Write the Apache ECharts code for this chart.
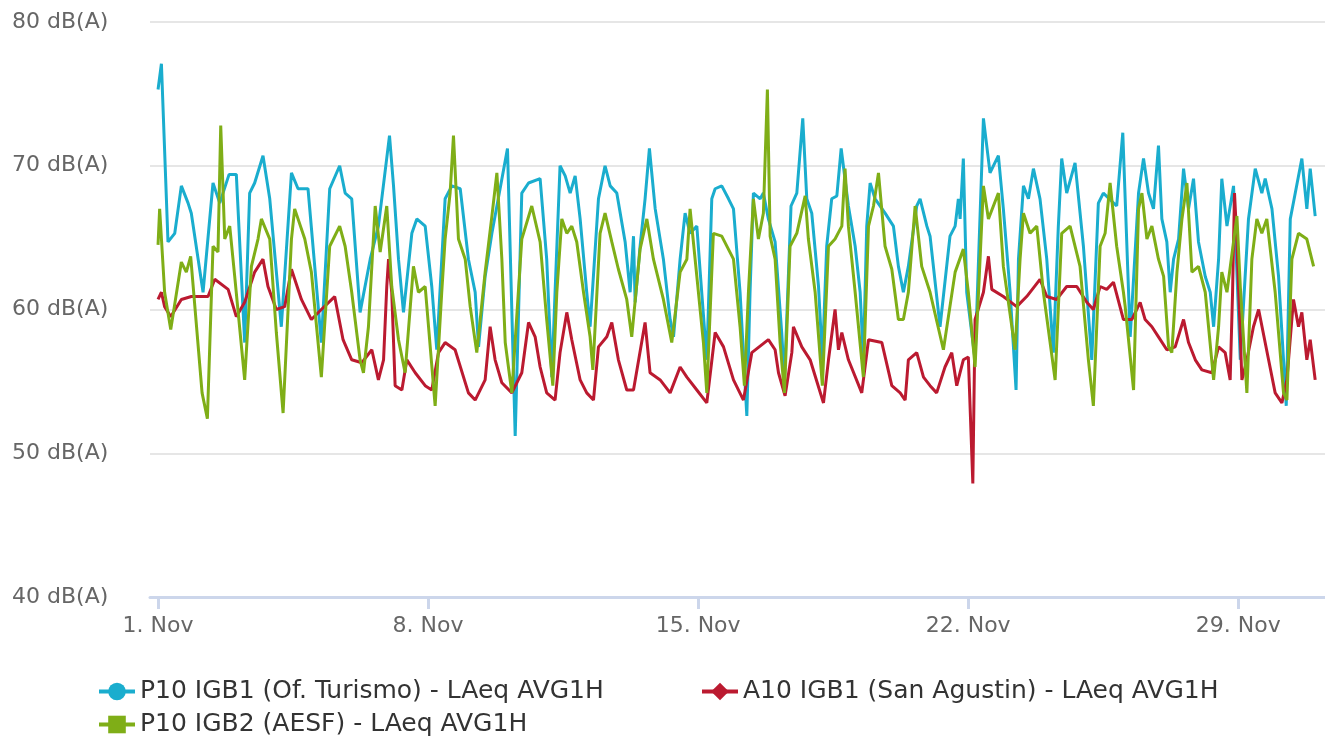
<!DOCTYPE html>
<html>
<head>
<meta charset="utf-8">
<title>LAeq AVG1H</title>
<script src="https://cdn.jsdelivr.net/npm/echarts@6/dist/echarts.min.js"></script>
<style>
  html, body { margin: 0; padding: 0; background: #fff; }
  #main { width: 1325px; height: 740px; }
</style>
</head>
<body>
<div id="main"></div>
<script>
// hours counted from 1 Nov 00:00, values in dB(A)
var turismoHours = [0, 2.1, 6.2, 10.4, 14.5, 18.7, 20.7, 28.0, 34.2, 38.4, 44.2, 48.7, 53.9, 57.0, 60.1, 65.3, 69.5, 76.7, 83.0, 87.1, 93.3, 101.6, 106.8, 113.0,
	116.4, 120.5, 125.7, 132.0, 137.1, 144.0, 146.5, 149.6, 152.7, 157.9, 161.0, 166.2, 170.3, 173.4, 178.6, 182.8, 188.0, 193.1, 197.3, 199.4, 203.5, 207.7, 217.4, 222.2, 226.3, 230.5,
	237.7, 241.8, 245.0, 247.0, 250.1, 253.3, 256.4, 259.5, 262.6, 266.7, 268.8, 274.0, 278.1, 281.3, 285.4, 290.6, 293.7, 295.8, 296.8, 299.9, 303.0, 305.7, 309.3, 314.4, 318.6, 320.7,
	324.8, 327.9, 331.0, 335.2, 337.3, 341.4, 344.5, 346.6, 350.7, 354.9, 358.0, 362.1, 366.3, 368.3, 370.4, 374.6, 376.6, 379.7, 383.9, 388.0, 389.7, 393.8, 397.4, 401.1, 403.6,
	406.7, 410.9, 413.3, 416.0, 419.1, 422.3, 425.0, 429.5, 433.7, 436.8, 438.8, 440.9, 443.0, 446.1, 452.3, 457.5, 460.6, 463.7, 466.8, 472.0, 474.1, 478.3, 480.3, 486.5, 492.7,
	495.9, 497.9, 499.0, 501.0, 503.1, 508.3, 513.5, 517.6, 522.8, 525.9, 530.1, 533.8, 535.3, 538.4, 541.5, 544.6, 548.7, 552.9, 557.0, 560.1, 562.2, 565.3, 570.5, 575.7, 580.9,
	585.0, 588.1, 596.4, 600.2, 604.8, 610.0, 613.1, 616.2, 619.3, 622.4, 624.5, 627.6, 629.7, 631.8, 634.9, 638.0, 641.1, 644.2, 647.3, 651.5, 654.6, 656.7, 659.8, 661.8, 665.0,
	669.1, 673.3, 678.4, 682.6, 686.7, 688.8, 693.0, 697.1, 701.9, 704.4, 707.5, 711.6, 714.7, 716.8, 719.9];
var turismoDb = [75.3, 77.1, 64.7, 65.3, 68.6, 67.4, 66.7, 61.2, 68.8, 67.4, 69.4, 69.4, 57.7, 68.1, 68.8, 70.7, 67.7, 58.8, 69.5, 68.4, 68.4, 57.7, 68.4, 70.0,
	68.1, 67.7, 59.8, 63.5, 65.8, 72.1, 68.6, 63.5, 59.8, 65.3, 66.3, 65.8, 61.6, 57.2, 67.7, 68.6, 68.4, 63.5, 61.2, 57.4, 62.3, 65.3, 71.2, 51.2, 68.1, 68.8,
	69.1, 63.5, 55.3, 61.2, 70.0, 69.3, 68.1, 69.3, 66.3, 61.2, 58.8, 67.7, 70.0, 68.6, 68.1, 64.7, 61.2, 65.1, 60.5, 64.4, 67.7, 71.2, 67.0, 63.5, 59.3, 58.1,
	63.5, 66.7, 65.3, 65.8, 62.6, 56.5, 67.7, 68.4, 68.6, 67.7, 67.0, 61.2, 52.6, 61.2, 68.1, 67.7, 68.1, 66.3, 64.7, 58.4, 55.1, 67.2, 68.1, 73.3, 67.7,
	66.7, 61.6, 56.5, 64.4, 67.7, 67.9, 71.2, 67.2, 64.4, 61.2, 56.5, 65.8, 68.8, 67.7, 66.7, 65.8, 63.0, 61.2, 63.0, 67.2, 67.7, 65.8, 65.1, 58.8, 65.1,
	65.8, 67.7, 66.3, 70.5, 61.2, 56.5, 73.3, 69.5, 70.7, 67.0, 61.2, 54.4, 63.5, 68.6, 67.7, 69.8, 67.7, 63.5, 57.0, 65.8, 70.5, 68.1, 70.2, 64.4, 56.5,
	67.4, 68.1, 67.2, 72.3, 58.1, 68.1, 70.5, 68.1, 67.0, 71.4, 66.3, 64.7, 61.2, 63.5, 64.9, 69.8, 67.0, 69.1, 64.7, 62.3, 61.2, 58.8, 63.5, 69.1, 65.8,
	68.6, 56.5, 66.3, 69.8, 68.1, 69.1, 67.0, 62.3, 53.3, 66.3, 68.1, 70.5, 67.0, 69.8, 66.5];

var agustinHours = [0, 2.1, 4.1, 7.9, 14.5, 20.7, 31.1, 35.3, 43.6, 48.7, 53.9, 60.1, 65.3, 68.4, 73.6, 78.8, 83.0, 89.2, 95.4, 101.6, 109.9, 115.1,
	120.5, 126.8, 133.0, 137.1, 140.3, 142.3, 143.4, 145.4, 147.5, 151.7, 154.8, 160.0, 166.2, 170.3, 174.5, 178.6, 184.8, 193.1, 197.3, 203.5, 206.6, 209.7, 213.9, 220.1, 226.3, 230.5, 234.6,
	237.7, 241.8, 247.0, 250.1, 254.3, 257.4, 262.6, 266.7, 270.9, 274.0, 279.2, 282.3, 286.4, 291.6, 295.8, 303.0, 306.1, 312.4, 318.6, 324.8, 329.0, 335.2, 341.4, 346.6, 351.8, 358.0,
	364.2, 369.4, 379.7, 383.9, 386.0, 390.1, 394.3, 395.3, 400.5, 405.7, 414.0, 417.1, 421.2, 423.3, 425.4, 429.5, 437.8, 442.0, 450.3, 456.5, 461.7, 464.8, 466.8, 472.0, 476.2,
	480.3, 484.4, 489.6, 493.8, 496.9, 501.0, 504.1, 506.9, 508.3, 513.5, 516.6, 518.7, 525.9, 534.2, 540.4, 548.7, 552.9, 559.1, 565.3, 571.6, 577.8, 581.9, 586.1, 590.2, 594.4, 600.6,
	605.8, 611.0, 614.1, 618.3, 622.4, 627.6, 632.8, 638.0, 641.1, 645.3, 649.4, 655.6, 659.8, 663.9, 667.0, 668.5, 669.7, 671.2, 674.3, 677.4, 681.5, 684.7, 690.9, 695.0, 699.2,
	702.3, 706.4, 709.5, 711.6, 714.7, 716.8, 719.9];
var agustinDb = [60.7, 61.2, 60.2, 59.5, 60.7, 60.9, 60.9, 62.1, 61.4, 59.5, 60.5, 62.6, 63.5, 61.6, 60.0, 60.2, 62.8, 60.7, 59.3, 60.0, 60.9, 57.9,
	56.5, 56.3, 57.2, 55.1, 56.5, 61.6, 63.5, 61.2, 54.7, 54.4, 56.5, 55.6, 54.7, 54.4, 57.0, 57.7, 57.2, 54.2, 53.7, 55.1, 58.8, 56.5, 54.9, 54.2, 55.6, 59.1, 58.1,
	56.0, 54.2, 53.7, 57.0, 59.8, 57.9, 55.1, 54.2, 53.7, 57.4, 58.1, 59.1, 56.5, 54.4, 54.4, 59.1, 55.6, 55.1, 54.2, 56.0, 55.3, 54.4, 53.5, 58.4, 57.4, 55.1,
	53.7, 57.0, 57.9, 57.2, 55.6, 54.0, 57.0, 58.8, 57.4, 56.5, 53.5, 56.5, 60.0, 57.2, 58.4, 56.5, 54.2, 57.9, 57.7, 54.7, 54.2, 53.7, 56.5, 57.0, 55.3,
	54.7, 54.2, 56.0, 57.0, 54.7, 56.5, 56.7, 47.9, 59.3, 61.2, 63.7, 61.4, 60.9, 60.2, 60.9, 62.1, 60.9, 60.7, 61.6, 61.6, 60.5, 60.0, 61.6, 61.4, 61.9, 59.3,
	59.3, 60.5, 59.3, 58.8, 58.1, 57.2, 57.4, 59.3, 57.7, 56.5, 55.8, 55.6, 57.4, 57.0, 55.1, 61.2, 68.1, 64.7, 55.1, 56.5, 58.8, 60.0, 56.5, 54.2, 53.5,
	55.1, 60.7, 58.8, 59.8, 56.5, 57.9, 55.1];

var aesfHours = [0, 1.0, 4.1, 7.9, 14.5, 17.6, 20.3, 27.4, 30.7, 34.2, 37.3, 39.0, 41.5, 44.6, 47.7, 53.9, 58.1, 62.2, 64.3, 69.5, 73.6, 77.8, 83.0, 85.0, 91.3, 95.4, 101.6, 106.8, 113.0,
	116.4, 120.5, 125.7, 127.8, 130.9, 135.1, 138.2, 142.3, 145.4, 149.6, 153.7, 158.9, 162.0, 166.2, 172.4, 176.5, 178.6, 181.7, 183.8, 186.9, 191.1, 194.2, 198.3, 203.5, 207.7, 210.8,
	213.9, 216.0, 220.1, 226.3, 232.5, 237.7, 241.8, 245.6, 248.1, 251.2, 254.3, 257.4, 260.5, 264.7, 268.8, 270.5, 275.0, 278.1, 282.3, 286.4, 291.6, 294.7, 299.9, 304.1, 308.2,
	314.4, 319.6, 324.8, 329.0, 331.0, 335.2, 339.3, 341.4, 345.5, 350.7, 358.0, 362.1, 364.8, 367.3, 370.4, 373.5, 376.6, 379.1, 380.8, 383.9, 387.0, 389.7, 393.2, 397.4, 402.6,
	404.6, 408.8, 413.3, 417.1, 421.2, 425.4, 427.4, 429.5, 433.7, 438.8, 442.0, 445.1, 448.2, 452.3, 456.5, 460.6, 463.7, 466.8, 471.0, 475.1, 480.3, 488.6, 495.9, 501.0, 504.1,
	508.3, 511.4, 513.5, 516.6, 522.8, 525.9, 533.2, 536.3, 538.4, 542.5, 546.7, 550.8, 558.1, 562.2, 567.4, 573.6, 578.8, 581.9, 586.1, 589.2, 592.3, 596.4, 600.6, 601.7,
	606.9, 610.0, 612.1, 615.2, 618.3, 622.4, 625.6, 628.7, 630.7, 633.9, 637.0, 640.1, 643.2, 647.3, 651.5, 656.7, 659.8, 661.8, 665.0, 671.2, 673.3, 677.4, 680.5, 683.6, 686.7,
	689.8, 695.0, 700.2, 702.3, 705.4, 709.5, 714.7, 718.9];
var aesfDb = [64.5, 67.0, 61.2, 58.6, 63.3, 62.6, 63.7, 54.2, 52.4, 64.4, 64.0, 72.8, 64.9, 65.8, 62.3, 55.1, 63.0, 64.9, 66.3, 64.9, 58.4, 52.8, 64.9, 67.0, 64.9, 62.6, 55.3, 64.4, 65.8,
	64.4, 61.2, 56.5, 55.6, 58.8, 67.2, 64.0, 67.2, 61.6, 57.9, 55.6, 63.0, 61.2, 61.6, 53.3, 61.2, 64.9, 68.1, 72.1, 64.9, 63.5, 60.2, 57.0, 62.6, 66.5, 69.5,
	63.5, 57.7, 54.2, 64.9, 67.2, 64.7, 59.3, 54.7, 61.2, 66.3, 65.3, 65.8, 64.7, 61.2, 58.1, 55.8, 65.3, 66.7, 64.7, 62.8, 60.7, 58.1, 64.2, 66.3, 63.5,
	60.7, 57.7, 62.6, 63.5, 67.0, 62.3, 57.7, 54.2, 65.3, 65.1, 63.5, 58.8, 54.7, 61.2, 67.7, 64.9, 66.7, 75.3, 65.1, 63.5, 57.7, 54.2, 64.4, 65.3, 67.9,
	64.9, 61.2, 54.7, 64.4, 64.9, 65.8, 69.8, 65.8, 61.2, 55.3, 65.8, 67.2, 69.5, 64.4, 62.8, 59.3, 59.3, 61.2, 67.2, 63.0, 61.2, 57.2, 62.6, 64.2, 61.2,
	56.0, 63.5, 68.6, 66.3, 68.1, 63.0, 57.2, 63.5, 66.7, 65.3, 65.8, 61.2, 55.1, 65.3, 65.8, 63.0, 56.5, 53.3, 64.4, 65.3, 68.8, 64.4, 61.2, 60.2,
	54.4, 67.0, 68.1, 64.9, 65.8, 63.5, 62.3, 57.4, 57.0, 62.6, 66.3, 68.8, 62.6, 63.0, 61.2, 55.1, 58.8, 62.6, 61.2, 66.5, 61.6, 54.2, 63.5, 66.3, 65.3,
	66.3, 61.2, 54.2, 53.7, 63.5, 65.3, 64.9, 63.0];

var seriesNames = ['P10 IGB1 (Of. Turismo) - LAeq AVG1H', 'A10 IGB1 (San Agustin) - LAeq AVG1H', 'P10 IGB2 (AESF) - LAeq AVG1H'];
var seriesColors = ['#1aadce', '#bb1a30', '#7fae17'];
// tick positions: 1, 8, 15, 22 and 29 Nov, in hours from 1 Nov
var tickHours = [0, 168, 336, 504, 672];

function toData(hours, values) {
	var out = [];
	for (var i = 0; i < hours.length; i++) {
		out.push([hours[i], values[i]]);
	}
	return out;
}

var chart = echarts.init(document.getElementById('main'));

var labelFont = 'DejaVu Sans';

function makeSeries(idx, hours, values, symbol) {
	return {
		name : seriesNames[idx],
		type : 'line',
		data : toData(hours, values),
		symbol : symbol,
		symbolSize : 15,
		showSymbol : false,
		color : seriesColors[idx],
		lineStyle : {
			width : 3,
			color : seriesColors[idx]
		}
	};
}

function makeLegend(name, left, top) {
	return {
		data : [ name ],
		left : left,
		top : top,
		itemWidth : 36,
		itemHeight : 22,
		itemStyle : {
			borderWidth : 0
		},
		lineStyle : {
			width : 4
		},
		textStyle : {
			fontFamily : labelFont,
			fontSize : 25,
			color : '#333'
		}
	};
}

var option = {
	animation : false,
	backgroundColor : '#fff',
	grid : {
		left : 150,
		right : 0,
		top : 22,
		bottom : 143
	},
	legend : [
		makeLegend(seriesNames[0], 92, 674),
		makeLegend(seriesNames[1], 695, 674),
		makeLegend(seriesNames[2], 92, 707)
	],
	xAxis : {
		type : 'value',
		min : -5,
		max : 726,
		splitLine : { show : false },
		axisLine : {
			lineStyle : { color : '#ccd6eb', width : 3 }
		},
		axisTick : {
			show : true,
			length : 12,
			customValues : tickHours,
			lineStyle : { color : '#ccd6eb', width : 3 }
		},
		axisLabel : {
			customValues : tickHours,
			margin : 18,
			color : '#666',
			fontFamily : labelFont,
			fontSize : 22,
			formatter : function(val) {
				return (1 + Math.round(val / 24)) + '. Nov';
			}
		}
	},
	yAxis : {
		type : 'value',
		min : 40,
		max : 80,
		interval : 10,
		axisLine : { show : false },
		axisTick : { show : false },
		splitLine : {
			lineStyle : { color : '#e6e6e6', width : 2 }
		},
		axisLabel : {
			align : 'left',
			margin : 138,
			color : '#666',
			fontFamily : labelFont,
			fontSize : 22,
			formatter : '{value} dB(A)'
		}
	},
	series : [
		makeSeries(0, turismoHours, turismoDb, 'circle'),
		makeSeries(1, agustinHours, agustinDb, 'diamond'),
		makeSeries(2, aesfHours, aesfDb, 'rect')
	]
};

chart.setOption(option);
</script>
</body>
</html>
